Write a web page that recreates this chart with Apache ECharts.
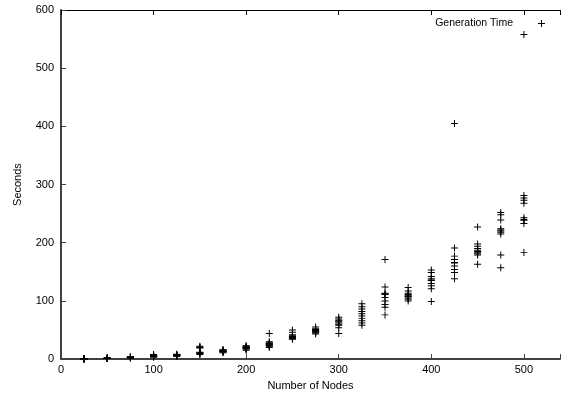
<!DOCTYPE html>
<html>
<head>
<meta charset="utf-8">
<script src="https://cdn.jsdelivr.net/npm/echarts@6/dist/echarts.min.js"></script>
<style>
html,body{margin:0;padding:0;background:#fff;overflow:hidden;}
#chart{width:563px;height:396px;}
</style>
</head>
<body>
<div id="chart"></div>
<script>
// Number of nodes (x) and measured generation times (seconds) per trial
const nodeCounts = [25, 50, 75, 100, 125, 150, 175, 200, 225, 250, 275, 300, 325, 350, 375, 400, 425, 450, 475, 500];
const t25  = [0.3, 0.4, 0.5, 0.5, 0.6, 0.7, 0.4, 0.5, 0.3, 0.6];
const t50  = [1.0, 1.2, 1.4, 1.5, 1.6, 1.8, 1.3, 1.1, 2.0, 1.5];
const t75  = [2.0, 2.5, 3.0, 2.8, 3.3, 3.6, 2.2, 2.7, 4.0, 3.1];
const t100 = [3.5, 4.0, 4.5, 5.0, 5.5, 6.5, 4.2, 4.8, 8.0, 5.2];
const t125 = [5.0, 5.5, 6.0, 6.5, 7.0, 7.5, 5.8, 6.2, 8.5, 6.8];
const t150 = [8, 9, 10, 11, 12, 19, 20, 21, 22, 10.5];
const t175 = [11, 12, 13, 14, 15, 16, 13.5, 12.5, 14.5, 15.5];
const t200 = [15, 17, 18, 19, 20, 21, 22, 23, 18.5, 20.5];
const t225 = [20, 22, 23, 25, 26, 28, 30, 44, 27, 24];
const t250 = [34, 35, 36, 37, 38, 40, 42, 46, 50, 39];
const t275 = [43, 45, 47, 48, 50, 51, 52, 55, 46, 49];
const t300 = [44, 54, 58, 62, 64, 66, 69, 72, 60, 67];
const t325 = [58, 62, 66, 70, 74, 78, 82, 86, 90, 95];
const t350 = [76, 89, 94, 100, 106, 111, 113, 124, 171, 112];
const t375 = [100, 103, 105, 107, 109, 111, 113, 117, 123, 108];
const t400 = [99, 121, 126, 130, 135, 138, 142, 149, 153, 136];
const t425 = [138, 149, 154, 160, 166, 171, 177, 191, 405, 165];
const t450 = [163, 179, 183, 185, 187, 190, 194, 198, 227, 181];
const t475 = [157, 179, 215, 218, 220, 224, 239, 248, 252, 222];
const t500 = [183, 233, 238, 243, 268, 273, 277, 281, 558, 240];
const trials = [t25, t50, t75, t100, t125, t150, t175, t200, t225, t250, t275, t300, t325, t350, t375, t400, t425, t450, t475, t500];
const xTicks = [0, 100, 200, 300, 400, 500];
const yTicks = [0, 100, 200, 300, 400, 500, 600];

const points = [];
nodeCounts.forEach((n, i) => trials[i].forEach(v => points.push([n, v])));

const plus = 'path://M4.3,0h1.4v4.3h4.3v1.4h-4.3v4.3h-1.4v-4.3h-4.3v-1.4h4.3z';
const font = 'Liberation Sans, Arial, Helvetica, sans-serif';

const chart = echarts.init(document.getElementById('chart'), null, {renderer: 'canvas', width: 563, height: 396});
chart.setOption({
  animation: false,
  backgroundColor: '#fff',
  grid: {left: 61, right: 0, top: 10, bottom: 36, containLabel: false},
  legend: {
    right: 13, top: 13,
    align: 'right',
    itemWidth: 7, itemHeight: 7,
    icon: plus,
    textStyle: {fontFamily: font, fontSize: 10.5, color: '#000', padding: [0, 20, 0, 0]},
    data: ['Generation Time']
  },
  xAxis: [{
    type: 'value', min: 0, max: 539, interval: 100,
    name: 'Number of Nodes', nameLocation: 'middle', nameGap: 16,
    nameTextStyle: {fontFamily: font, fontSize: 11, color: '#000'},
    axisLine: {show: true, onZero: false, lineStyle: {color: '#404040', width: 2}},
    axisTick: {show: true, inside: true, length: 5, lineStyle: {color: '#404040'}},
    axisLabel: {fontFamily: font, fontSize: 11, color: '#000', margin: 5,
      formatter: v => xTicks.includes(v) ? String(v) : ''},
    splitLine: {show: false}
  }, {
    type: 'value', position: 'top', min: 0, max: 539, interval: 100,
    axisLine: {show: true, onZero: false, lineStyle: {color: '#000', width: 1}},
    axisTick: {show: true, inside: true, length: 5, lineStyle: {color: '#000'}},
    axisLabel: {show: false},
    splitLine: {show: false}
  }],
  yAxis: {
    type: 'value', min: 0, max: 600, interval: 100,
    name: 'Seconds', nameLocation: 'middle', nameGap: 38, nameRotate: 90,
    nameTextStyle: {fontFamily: font, fontSize: 11, color: '#000'},
    axisLine: {show: true, onZero: false, lineStyle: {color: '#404040', width: 2}},
    axisTick: {show: true, inside: true, length: 5, lineStyle: {color: '#404040'}},
    axisLabel: {fontFamily: font, fontSize: 11, color: '#000', margin: 7,
      formatter: v => yTicks.includes(v) ? String(v) : ''},
    splitLine: {show: false}
  },
  series: [{
    name: 'Generation Time',
    type: 'scatter',
    xAxisIndex: 0,
    symbol: plus,
    symbolSize: 7,
    itemStyle: {color: '#000', opacity: 1},
    data: points
  }]
});
</script>
</body>
</html>
